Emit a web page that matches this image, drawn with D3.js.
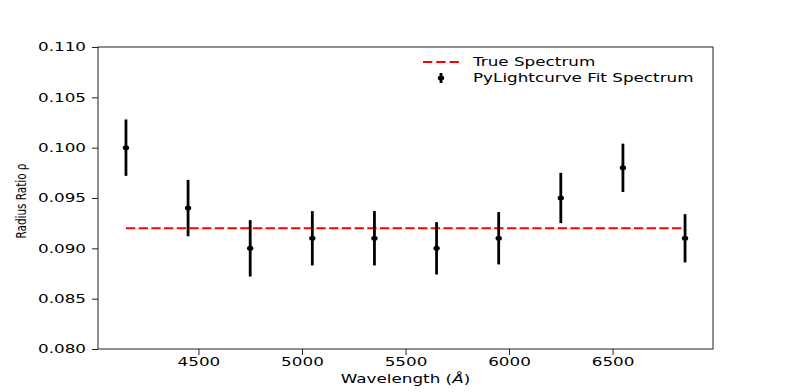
<!DOCTYPE html>
<html>
<head>
<meta charset="utf-8">
<script src="https://cdn.jsdelivr.net/npm/d3@7"></script>
<style>
    body { margin: 0; background: #fff; }
    text { font-family: "DejaVu Sans", sans-serif; fill: #000; }
</style>
</head>
<body>
<svg id="chart" width="793" height="392"></svg>
<script>
// data
var wavelengths = [4150, 4450, 4750, 5050, 5350, 5650, 5950, 6250, 6550, 6850];
var fitRatio = [0.100, 0.094, 0.090, 0.091, 0.091, 0.090, 0.091, 0.095, 0.098, 0.091];
var fitError = [0.0028, 0.0028, 0.0028, 0.0027, 0.0027, 0.0026, 0.0026, 0.0025, 0.0024, 0.0024];
var trueRatio = 0.092;
var xTicks = [4500, 5000, 5500, 6000, 6500];
var yTicks = [0.080, 0.085, 0.090, 0.095, 0.100, 0.105, 0.110];
var legendLabels = ["True Spectrum", "PyLightcurve Fit Spectrum"];

var svg = d3.select("#chart");
var plotLeft = 98, plotRight = 713, plotTop = 47, plotBottom = 349;
var stretch = 1.4; // the picture is widened horizontally

// widen a text around its own anchor x
function widen(sel) {
    sel.each(function () {
        var t = d3.select(this), ax = parseFloat(t.attr("x")) || 0;
        t.attr("transform", "translate(" + ax + ",0) scale(" + stretch + ",1) translate(" + (-ax) + ",0)");
    });
}

var xMin = d3.min(wavelengths), xMax = d3.max(wavelengths), pad = (xMax - xMin) * 0.05;
var x = d3.scaleLinear().domain([xMin - pad, xMax + pad]).range([plotLeft, plotRight]);
var y = d3.scaleLinear().domain([0.080, 0.110]).range([plotBottom, plotTop]);

// axes
var gx = svg.append("g")
    .attr("transform", "translate(0," + plotBottom + ")")
    .call(d3.axisBottom(x).tickValues(xTicks).tickSize(6).tickPadding(2).tickFormat(d3.format("d")));
var gy = svg.append("g")
    .attr("transform", "translate(" + plotLeft + ",0)")
    .call(d3.axisLeft(y).tickValues(yTicks).tickSize(6).tickPadding(6).tickFormat(d3.format(".3f")));
[gx, gy].forEach(function (g) {
    g.select(".domain").remove();
    g.selectAll(".tick line").attr("stroke", "#222").attr("stroke-width", 1);
    g.selectAll(".tick text").attr("font-size", 12).attr("font-family", "DejaVu Sans").call(widen);
});

// frame
svg.append("rect")
    .attr("x", plotLeft).attr("y", plotTop)
    .attr("width", plotRight - plotLeft).attr("height", plotBottom - plotTop)
    .attr("fill", "none").attr("stroke", "#222").attr("stroke-width", 1);

// true spectrum
svg.append("line")
    .attr("x1", x(xMin)).attr("x2", x(xMax))
    .attr("y1", y(trueRatio)).attr("y2", y(trueRatio))
    .attr("stroke", "#ff0000").attr("stroke-width", 2)
    .attr("stroke-dasharray", "9.3,3.4");

// fit spectrum with error bars
var pts = svg.append("g").selectAll("g")
    .data(wavelengths)
    .enter()
    .append("g");
pts.append("line")
    .attr("x1", function (d) {return x(d);})
    .attr("x2", function (d) {return x(d);})
    .attr("y1", function (d, i) {return y(fitRatio[i] + fitError[i]);})
    .attr("y2", function (d, i) {return y(fitRatio[i] - fitError[i]);})
    .attr("stroke", "#000").attr("stroke-width", 2.8);
pts.append("ellipse")
    .attr("cx", function (d) {return x(d);})
    .attr("cy", function (d, i) {return y(fitRatio[i]);})
    .attr("rx", 3.2).attr("ry", 2.5)
    .attr("fill", "#000");

// legend
var lg = svg.append("g");
lg.append("line")
    .attr("x1", 423).attr("x2", 459).attr("y1", 62).attr("y2", 62)
    .attr("stroke", "#ff0000").attr("stroke-width", 2)
    .attr("stroke-dasharray", "9.3,4");
lg.append("line")
    .attr("x1", 441).attr("x2", 441).attr("y1", 73).attr("y2", 83)
    .attr("stroke", "#000").attr("stroke-width", 2.8);
lg.append("ellipse")
    .attr("cx", 441).attr("cy", 78).attr("rx", 3.2).attr("ry", 2.5).attr("fill", "#000");
lg.selectAll("text")
    .data(legendLabels)
    .enter()
    .append("text")
    .attr("x", 473)
    .attr("y", function (d, i) {return 66.5 + i * 16;})
    .attr("font-size", 12)
    .text(function (d) {return d;})
    .call(widen);

// axis titles
var xt = svg.append("text")
    .attr("x", (plotLeft + plotRight) / 2).attr("y", 383)
    .attr("text-anchor", "middle")
    .attr("font-size", 12);
xt.append("tspan").text("Wavelength (");
xt.append("tspan").attr("font-style", "italic").text("Å");
xt.append("tspan").text(")");
widen(xt);

svg.append("text")
    .attr("transform", "translate(26,201) rotate(-90)")
    .attr("text-anchor", "middle")
    .attr("font-family", "'Liberation Sans Narrow', 'DejaVu Sans', sans-serif")
    .attr("font-size", 14)
    .attr("textLength", 75)
    .attr("lengthAdjust", "spacingAndGlyphs")
    .text("Radius Ratio ρ");
</script>
</body>
</html>
